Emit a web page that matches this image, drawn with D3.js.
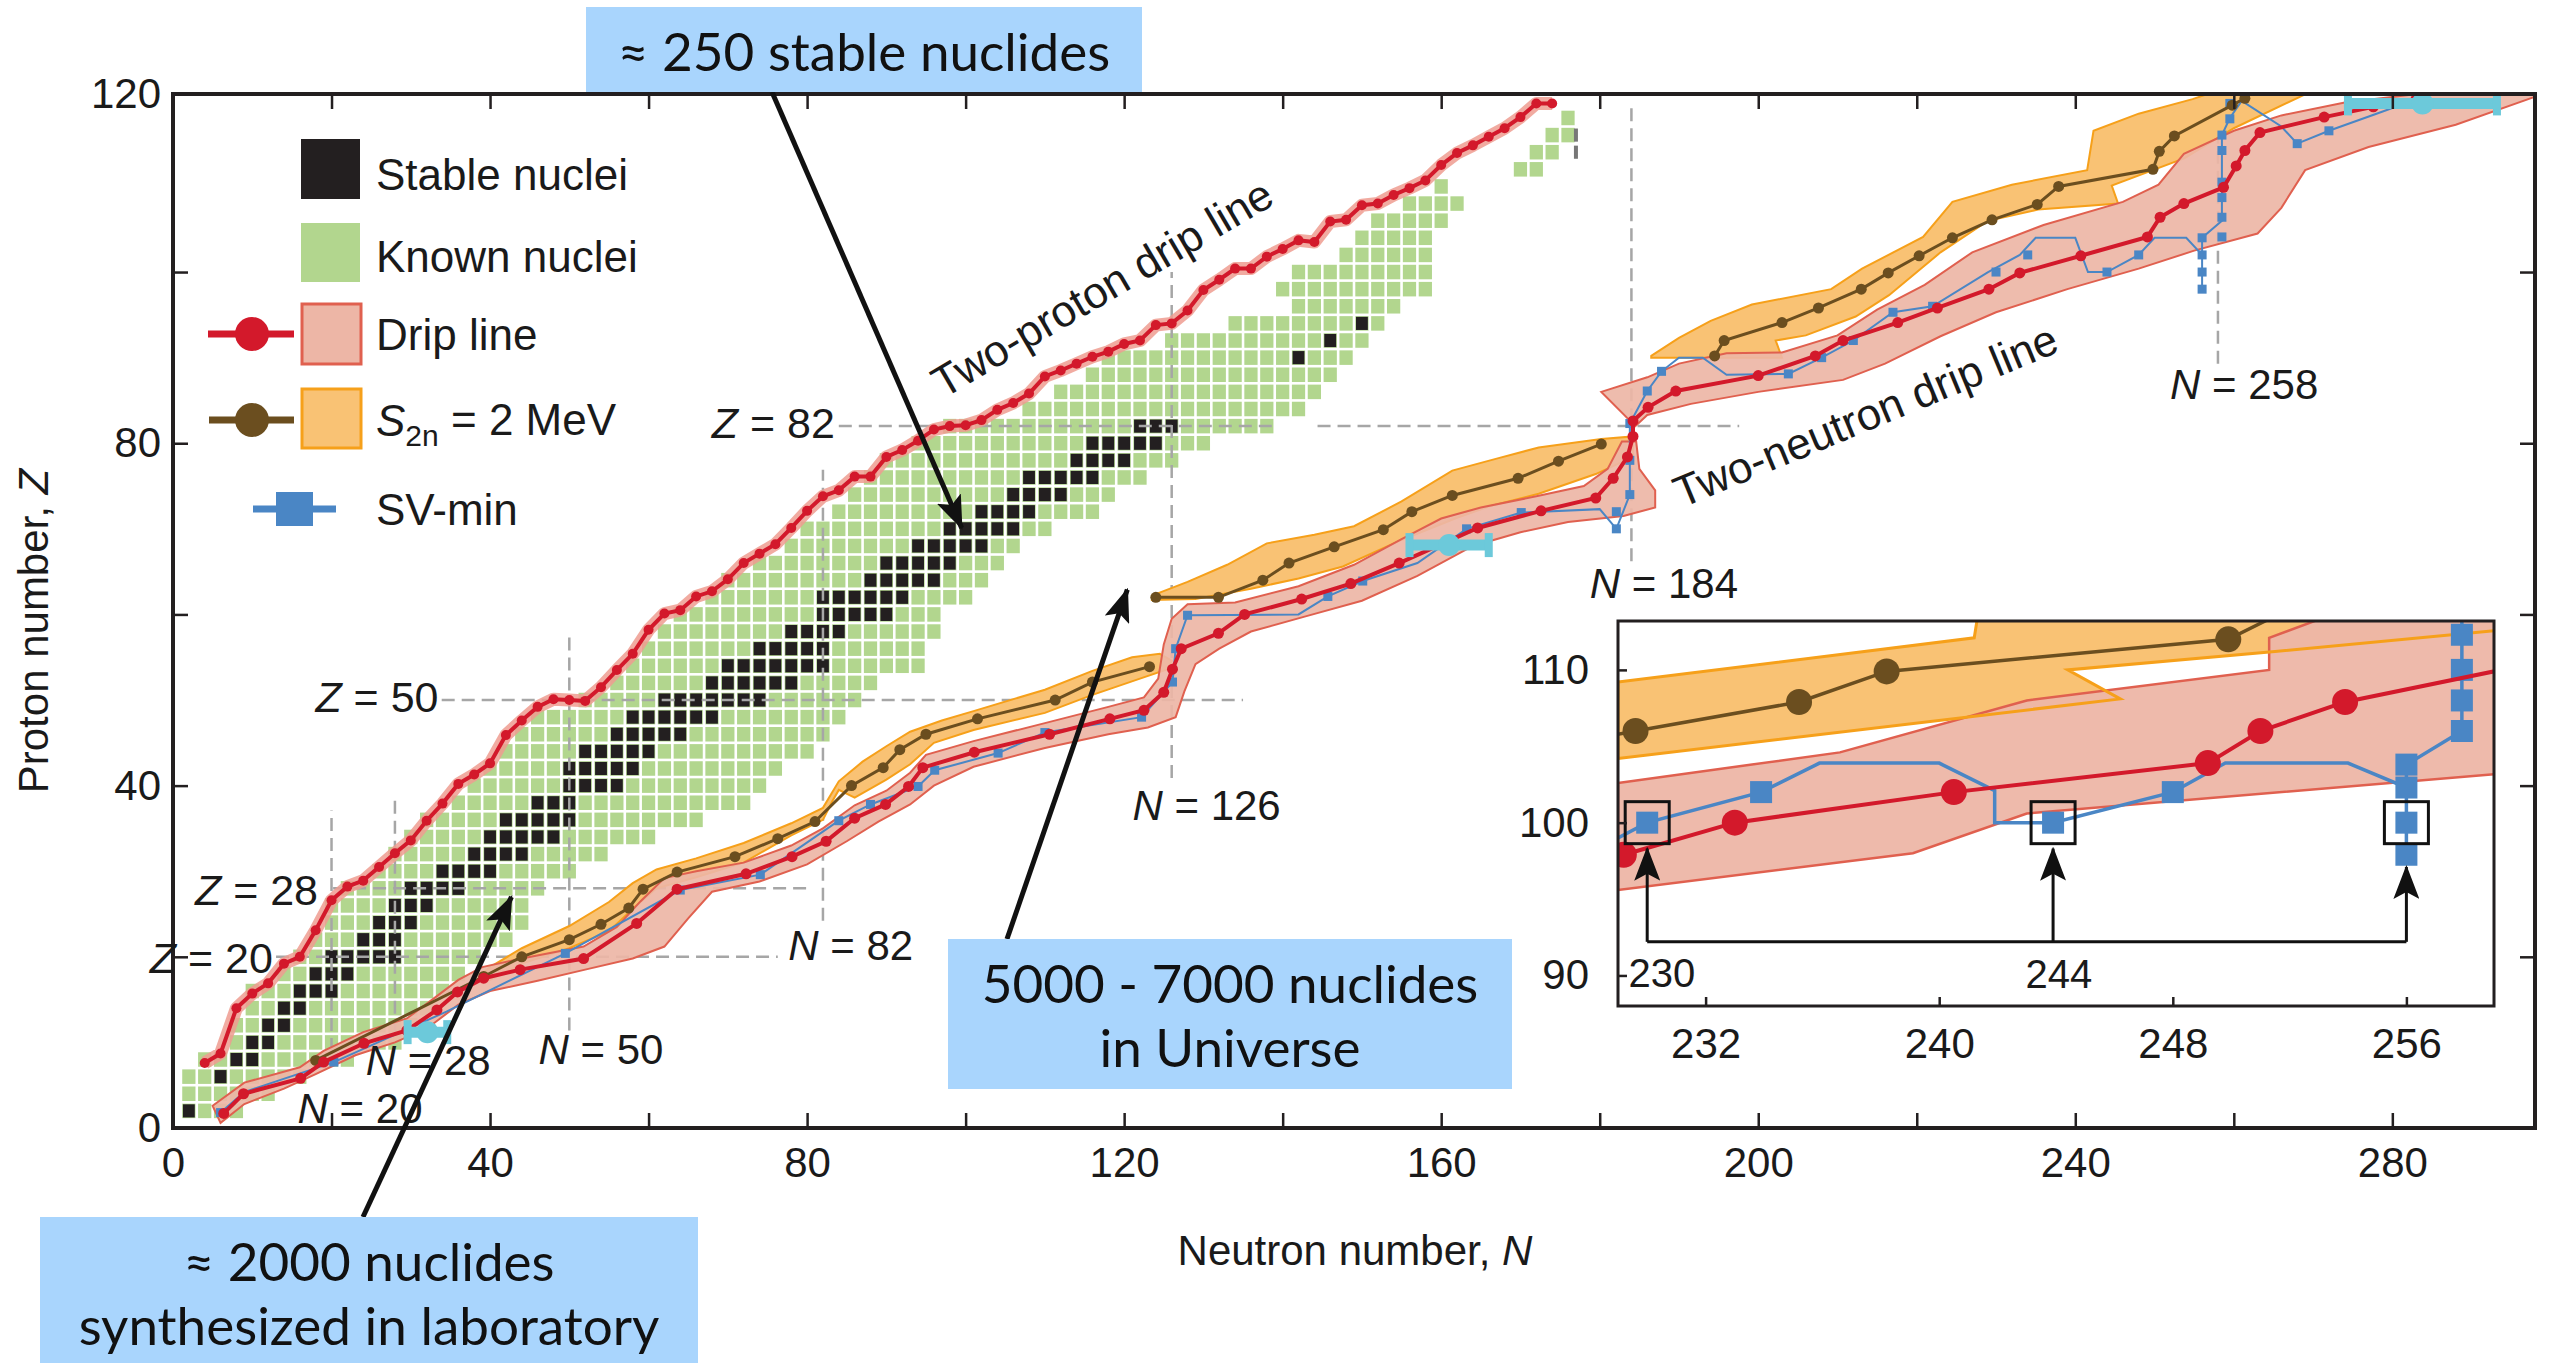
<!DOCTYPE html>
<html>
<head>
<meta charset="utf-8">
<script src="https://cdn.jsdelivr.net/npm/d3@7"></script>
<style>
  body { margin: 0; background: #fff; }
  svg { display: block; }
</style>
</head>
<body>
<svg id="chart" width="2555" height="1363"></svg>
<script>
// ---- data (N = neutron number, Z = proton number) ----
const knownZ   = [2,4,6,8,10,12,14,16,18,20,22,24,26,28,30,32,34,36,38,40,42,44,46,48,50,52,54,56,58,60,62,64,66,68,70,72,74,76,78,80,82,84,86,88,90,92,94,96,98,100,102,104,106,108,110,112,114,116,118];
const knownMin = [2,2,2,4,8,8,10,10,14,16,18,20,20,22,26,28,30,32,36,38,40,42,44,46,52,56,58,60,62,64,68,70,74,78,80,84,86,88,90,94,98,108,112,116,118,126,134,142,140,142,148,150,152,156,160,170,172,174,176];
const knownMax = [8,12,16,22,28,30,32,34,36,38,42,44,44,46,50,54,60,66,72,74,76,80,82,84,86,88,94,94,96,96,100,102,104,106,110,116,118,122,126,130,138,142,144,146,148,150,152,154,158,158,158,158,160,162,160,172,174,176,176];

const stable = [
  [2,[2]],[6,[6]],[8,[8,10]],[10,[10,12]],[12,[12,14]],[14,[14,16]],[16,[16,18,20]],[18,[18,20,22]],
  [20,[20,22,24,26,28]],[22,[24,26,28]],[24,[26,28,30]],[26,[28,30,32]],[28,[30,32,34,36]],
  [30,[34,36,38,40]],[32,[38,40,42,44]],[34,[40,42,44,46,48]],[36,[42,44,46,48,50]],[38,[46,48,50]],
  [40,[50,52,54,56]],[42,[50,52,54,56,58]],[44,[52,54,56,58,60]],[46,[56,58,60,62,64]],
  [48,[58,60,62,64,66,68]],[50,[62,64,66,68,70,72,74]],[52,[68,70,72,74,76,78]],[54,[70,72,74,76,78,80,82]],
  [56,[74,76,78,80,82]],[58,[78,80,82,84]],[60,[82,84,86,88,90]],[62,[82,84,86,88,90,92]],
  [64,[88,90,92,94,96]],[66,[90,92,94,96,98]],[68,[94,96,98,100,102]],[70,[98,100,102,104,106]],
  [72,[102,104,106,108]],[74,[106,108,110,112]],[76,[108,110,112,114,116]],[78,[114,116,118,120]],
  [80,[116,118,120,122,124]],[82,[122,124,126]],[90,[142]],[92,[146]],[94,[150]]
];
const greyMarks = [[177,116],[177,114]];

const protonDrip = [[4,7.6],[6,8.7],[8,14],[10,15.7],[12,16.9],[14,19.2],[16,20],[18,23.1],[20,26.6],[22,28.2],[24,28.9],[26,30.5],[28,32.1],[30,33.6],[32,35.9],[34,37.9],[36,40.2],[38,41.3],[40,42.6],[42,45.9],[44,47.6],[46,49.2],[48,50.1],[50,50],[52,49.9],[54,51.5],[56,53.5],[58,55.4],[60,58.2],[62,60.1],[64,60.5],[66,62.1],[68,62.7],[70,64.1],[72,66],[74,67.1],[76,68.2],[78,70.1],[80,72.1],[82,73.8],[84,74.5],[86,76.1],[88,76.1],[90,78.4],[92,79.2],[94,80.3],[96,81.6],[98,82],[100,82.1],[102,82.7],[104,83.9],[106,84.7],[108,85.8],[110,87.8],[112,88.5],[114,89.3],[116,90.1],[118,90.7],[120,91.6],[122,92],[124,93.8],[126,94],[128,95.5],[130,97.9],[132,99.1],[134,100.4],[136,100.4],[138,101.8],[140,102.7],[142,103.7],[144,103.5],[146,105.9],[148,106.1],[150,107.8],[152,108],[154,109],[156,109.8],[158,110.7],[160,112.5],[162,113.9],[164,114.8],[166,115.8],[168,116.8],[170,118.1],[172,119.7],[174,119.7]];

const neutronDrip = [[6.4,1.7],[8.9,4],[16.1,5.8],[19,7.7],[24.1,9.9],[29.5,11.4],[33.3,13.8],[35.9,15.9],[39.2,17.5],[43.8,18.5],[51.8,19.8],[58.5,23.9],[63.6,27.9],[72.3,29.7],[78.1,31.7],[82.4,33.5],[86,36.2],[89.9,37.8],[92.8,39.9],[94.6,42.1],[101.1,43.9],[110.6,46],[118.2,47.8],[122.5,48.8],[125,50.9],[126.1,53.6],[127.2,56],[131.9,57.8],[135.2,60],[142.4,61.8],[148.6,63.6],[154.7,66],[164.6,70.1],[172.6,72.1],[179.5,73.6],[181.7,75.9],[183.5,78.4],[184.2,80.8],[184.2,82.6],[186.1,84.2],[189.6,86.1],[200,87.9],[207.2,90.2],[210.7,92],[217.6,94.1],[222.6,95.8],[229.1,98],[233,99.9],[240.7,101.9],[249.1,104.1],[250.7,106.4],[253.7,108],[258.7,109.9],[260.3,112.4],[261.4,114.2],[263.3,116.3],[271.4,118.1],[277.6,119.3],[283,120.2]];

const s2nA = [[18,7.9],[39.2,17.7],[44,20],[50,22],[54,23.8],[57.5,25.7],[59.3,27.9],[63.6,29.9],[70.9,31.7],[76.3,33.8],[81,35.8],[85.6,40],[89.6,42.1],[91.7,44.2],[95,46],[101.5,47.8],[111.3,50],[116,52.1],[123.2,53.9]];
const s2nB = [[124,62],[131.9,62],[137.5,64],[140.8,66],[146.5,67.9],[152.7,69.9],[156.3,72],[161.4,73.9],[169.7,75.9],[174.8,77.9],[180.2,79.9]];
const s2nC = [[194.5,90.2],[195.7,92],[203,94.1],[207.6,95.8],[213,98],[216.4,99.9],[220.3,101.9],[224.5,104],[229.5,106.1],[235.2,107.9],[237.9,110],[249.8,112],[250.6,114.1],[252.5,115.9],[259.8,119.5],[261.4,120.3]];

const svLine = [[6,1.8],[9,4.2],[20.3,7.7],[34.5,13.6],[49.5,20.4],[64,27.8],[74.1,29.6],[84,35.9],[88,37.8],[94,39.9],[96.1,41.8],[104.1,43.8],[110,46.2],[122.2,48],[126.1,52.1],[126.5,56],[128,59.9],[142,60],[145.7,62.1],[150.1,63.9],[157,66],[163.2,70],[170.1,71.9],[180,72.3],[182.1,70],[183.8,74],[183.8,82.3],[186,86.1],[187.8,88.4],[190,90],[193,90],[196,88],[203.8,88.1],[208,90],[212,92],[217,95.3],[222,96],[229,100],[233,102],[235,104],[240,104],[241.6,100],[244,100],[248,102],[250,104],[254,104],[256,102],[256,98],[256,104],[258.5,106],[258.5,116],[259.5,118],[261,120],[266,117],[268,115],[272,116.5],[278,118.5],[284,120.5]];
const svPoints = [[6,1.8],[20.3,7.7],[49.5,20.4],[64,27.8],[74.1,29.6],[84,35.9],[88,37.8],[94,39.9],[96.1,41.8],[104.1,43.8],[110,46.2],[122.2,48],[126.1,52.1],[126.5,56],[128,59.9],[145.7,62.1],[150.1,63.9],[163.2,70],[170.1,71.9],[182.1,70],[182.1,72],[183.8,74],[183.8,78],[183.8,82.3],[186,86.1],[187.8,88.4],[203.8,88.1],[208,90],[212,92],[217,95.3],[222,96],[230,100],[234,102],[244,100],[248,102],[256,98],[256,100],[256,102],[256,104],[258.5,104.1],[258.5,106.4],[258.5,108.7],[258.5,110.5],[258.5,114.2],[258.5,116],[259.5,117.9],[259.5,119.7],[268,115],[272,116.5]];

const pinkA = [[5,2.6],[9,5.3],[16,7.1],[19,9],[24,11.2],[29.5,12.8],[33,15.2],[36,17.3],[39,18.8],[44,19.8],[51.8,21.2],[56,23.5],[59,26.5],[62,29.2],[66,30],[72,31],[78,33],[82,35],[86,37.7],[90,39.4],[93,41.5],[95,43.6],[101,45.2],[110,47.3],[118,49.2],[122.5,50.3],[124.3,52.5],[125,56.5],[126,59.5],[128,61.2],[134,61.4],[142,63.3],[149,65.8],[155,68.8],[160,71.2],[165,72.5],[172,73.8],[178,75],[181,77],[182.8,80.2],[184.6,80.2],[185,77],[187,74.5],[187,72.5],[183,71.5],
  [176,70.8],[170,69.6],[164,68],[157,64.5],[150,61.6],[143,59.8],[136,58],[132,56],[129,54.2],[127.6,51],[126.5,48],[123,46.8],[118,46],[110,44.4],[101,42.2],[96,40],[93,37.8],[89,35.8],[85,33.5],[80,30.8],[74,28.8],[68,27.6],[65,24.5],[62,21.2],[58,19.8],[52,18.5],[46,17.2],[40,16],[36,14.4],[32,11.6],[28,10],[23,8.5],[18,6.3],[14,4.6],[9,2.8],[6,0.6]];
const pinkB = [[180.2,86],[186,87.7],[190,89.3],[196,90.5],[203,90.6],[210,92.6],[215,95.6],[221,98.5],[227,102.3],[236,105.5],[246,108.2],[250.5,110.2],[253.7,113.8],[260,116.5],[266,118.3],[274,119.8],[285,121],[299,121.5],
  [299,120.8],[288,117.2],[277,114.6],[269,111.9],[266,107.5],[263,104.5],[255,102.5],[248,100.4],[239,98],[230,95.3],[223,92.5],[216,89.3],[210.7,87.4],[200,86],[191.5,84.6],[186,83.3],[184.5,82]];
const orangeA = [[38.5,17.6],[40,18.8],[44,21],[50,23.6],[55,26.4],[58,28.6],[61,30.2],[66,31.5],[72,33.3],[78,35.6],[82,37.4],[84,40.5],[87,42.8],[90,44.6],[93,46.3],[97,47.6],[101,48.7],[110,51.2],[116,53.4],[121,55],[124.5,55.4],[126,54.6],
  [125.5,53.6],[122,52.5],[116,50.6],[110,48.5],[101,46.5],[96,45],[93,42.5],[90,40.7],[86,38.6],[84,39.5],[83.2,38.2],[82,36],[78,34.2],[72,31],[66,29.3],[61,28],[58,25.6],[55,23],[50,21],[44,19.2],[40,17.3]];
const orangeB = [[123.5,62.2],[128,63.8],[133,65.8],[138,68.3],[144,69.3],[149,70.3],[155,73.2],[161.4,76.8],[167,78.2],[172.3,79.5],[180.2,80.5],[184.2,80.8],
  [184.2,78.4],[179.5,76.4],[172.3,74.1],[166,72.6],[162,71.3],[155,68.7],[147.6,65.6],[142,64.2],[136,63],[129,61.8],[123.5,61.7]];
const orangeC = [[186.5,90.2],[190,92.3],[194,94.3],[199.2,96.2],[209.2,98],[213.1,100.4],[220.8,104.1],[224.5,108.2],[232,110.2],[241.5,111.9],[242.3,116.5],[248,118.5],[254.8,120.2],[258,121.2],[270,121.2],
  [268.4,120.5],[260,116.8],[253.8,113.3],[244.6,110.1],[245.4,108],[235.3,107.3],[229,106],[223,102.3],[216.5,97.3],[212.3,94.8],[206,92.6],[202.2,92],[203,90],[186.5,90]];

const cyanBars = [[29.6,34.6,11.2],[156,166,68.1],[274.4,293.2,119.7]];

// magic numbers: horizontal [Z, Nfrom, Nto], vertical [N, Zfrom, Zto]
const magicZ = [[20,13,76.3],[28,20.2,80.6],[50,33.9,135],[82,84,139],[82,144.4,197.6]];
const magicN = [[20,9,37.1],[28,11,38.3],[50,11.4,57.9],[82,24.2,76.9],[126,40.9,100],[184,66.2,119.3],[258,89.3,119.8]];
const zLabels = [["Z","20",12.6,19.9],["Z","28",18.3,27.9],["Z","50",33.5,50.4],["Z","82",83.5,82.4]];
const nLabels = [["N","20",23.6,2.3],["N","28",32.2,7.9],["N","50",54,9.3],["N","82",85.5,21.4],["N","126",130.4,37.7],["N","184",188.1,63.7],["N","258",261.3,86.9]];

// inset
const insetDrip = [[228.5,97.3],[229.2,97.9],[233,100],[240.5,102],[249.2,103.9],[251,106],[253.9,107.9],[259.5,110.1]];
const insetS2n = [[228.5,105.6],[229.6,106],[235.2,107.9],[238.2,109.9],[249.9,112],[252,114]];
const insetSVLine = [[229,99],[230,100],[233.9,102],[235.9,103.9],[240,103.9],[241.9,102.1],[241.9,100],[243.9,100],[248,102],[249.8,103.9],[254,103.9],[256,102.3],[256,97.9],[256,103.8],[257.9,106],[257.9,113.5]];
const insetSVSquares = [[230,100],[233.9,102],[243.9,100],[248,102],[256,97.9],[256,100],[256,102.3],[256,103.8],[257.9,106],[257.9,108],[257.9,110],[257.9,112.3]];
const insetOrange = [[229,109.2],[241.2,112.1],[241.3,113.3],[259.2,113.3],[259.2,112.6],[251.5,111.2],[244.4,110],[246.2,108.1],[229,104.2]];
const insetPink = [[229,102.6],[236.6,104.6],[243,108],[251.3,110],[251.3,112.1],[253,113.3],[259.2,113.3],[259.2,103.2],[243,100.6],[239.1,98],[229,95.6]];
const insetBoxes = [230, 243.9, 256];
const insetArrowTips = [98.3, 98.3, 97.1];
const insetLabels = [["230",230.5,90.2],["244",244.1,90.1]];

// ---- colours ----
const GREEN = "#b2d68e", BLACK = "#231f20", RED = "#d3192b", PINK = "#edb6a6", PINK_EDGE = "#e0604f";
const ORANGE = "#f9c274", ORANGE_EDGE = "#f6a01a", BROWN = "#6b4e1f", BLUE = "#4a86c5", CYAN = "#6cc9da";
const BOX = "#a9d5fd", DASH = "#a6a6a6";
const FONT = "'Liberation Sans', Arial, Helvetica, sans-serif";
const BOXFONT = "Lato, 'Open Sans', sans-serif";

const svg = d3.select("#chart");

const x = d3.scaleLinear().domain([0, 298]).range([173, 2535]);
const y = d3.scaleLinear().domain([0, 120.8]).range([1128, 94]);
const line = d3.line().x(d => x(d[0])).y(d => y(d[1]));
const poly = pts => line(pts) + "Z";

const defs = svg.append("defs");
defs.append("clipPath").attr("id", "plotClip").append("rect")
  .attr("x", x(0)).attr("y", y(120.8)).attr("width", x(298) - x(0)).attr("height", y(0) - y(120.8));

defs.append("marker").attr("id", "head").attr("viewBox", "0 0 34 26")
  .attr("refX", 32).attr("refY", 13).attr("markerWidth", 34).attr("markerHeight", 26)
  .attr("markerUnits", "userSpaceOnUse").attr("orient", "auto")
  .append("path").attr("d", "M0,0 L34,13 L0,26 L7,13 Z").attr("fill", "#111");

const plot = svg.append("g").attr("clip-path", "url(#plotClip)");

// known + stable nuclei cells (2x2 bins)
const cells = [];
knownZ.forEach((z, i) => { for (let n = knownMin[i]; n <= knownMax[i]; n += 2) cells.push([n, z]); });
const cw = x(2) - x(0), ch = y(0) - y(2);
plot.append("g").selectAll("rect").data(cells).join("rect")
  .attr("x", d => x(d[0] - 1) + 1.3).attr("y", d => y(d[1] + 1) + 1.3)
  .attr("width", cw - 2.6).attr("height", ch - 2.6).attr("fill", GREEN);

const stableCells = stable.flatMap(([z, ns]) => ns.map(n => [n, z]));
plot.append("g").selectAll("rect").data(stableCells).join("rect")
  .attr("x", d => x(d[0] - 1) + 2).attr("y", d => y(d[1] + 1) + 2)
  .attr("width", cw - 4).attr("height", ch - 4).attr("fill", BLACK);

plot.append("g").selectAll("rect").data(greyMarks).join("rect")
  .attr("x", d => x(d[0]) - 2).attr("y", d => y(d[1] + 1) + 2)
  .attr("width", 4).attr("height", ch - 4).attr("fill", "#777");

// magic-number dashed guides
plot.append("g").selectAll("line").data(magicZ).join("line")
  .attr("x1", d => x(d[1])).attr("x2", d => x(d[2])).attr("y1", d => y(d[0])).attr("y2", d => y(d[0]))
  .attr("stroke", DASH).attr("stroke-width", 2.5).attr("stroke-dasharray", "13,7");
plot.append("g").selectAll("line").data(magicN).join("line")
  .attr("x1", d => x(d[0])).attr("x2", d => x(d[0])).attr("y1", d => y(d[1])).attr("y2", d => y(d[2]))
  .attr("stroke", DASH).attr("stroke-width", 2.5).attr("stroke-dasharray", "13,7");

// uncertainty bands
plot.selectAll("path.orange").data([orangeA, orangeB, orangeC]).join("path").attr("class", "orange")
  .attr("d", poly).attr("fill", ORANGE).attr("stroke", ORANGE_EDGE).attr("stroke-width", 2);
plot.selectAll("path.pink").data([pinkA, pinkB]).join("path").attr("class", "pink")
  .attr("d", poly).attr("fill", PINK).attr("fill-opacity", 0.92).attr("stroke", PINK_EDGE).attr("stroke-width", 2);

// SV-min
plot.append("path").attr("d", line(svLine)).attr("fill", "none").attr("stroke", BLUE).attr("stroke-width", 2);
plot.append("g").selectAll("rect").data(svPoints).join("rect")
  .attr("x", d => x(d[0]) - 4.5).attr("y", d => y(d[1]) - 4.5).attr("width", 9).attr("height", 9).attr("fill", BLUE);

// S2n = 2 MeV
[s2nA, s2nB, s2nC].forEach(seg => {
  plot.append("path").attr("d", line(seg)).attr("fill", "none").attr("stroke", BROWN).attr("stroke-width", 3);
  plot.append("g").selectAll("circle").data(seg).join("circle")
    .attr("cx", d => x(d[0])).attr("cy", d => y(d[1])).attr("r", 5.5).attr("fill", BROWN);
});

// neutron drip line
plot.append("path").attr("d", line(neutronDrip)).attr("fill", "none").attr("stroke", RED).attr("stroke-width", 4);
plot.append("g").selectAll("circle").data(neutronDrip).join("circle")
  .attr("cx", d => x(d[0])).attr("cy", d => y(d[1])).attr("r", 5.5).attr("fill", RED);

// proton drip line (with narrow band)
plot.append("path").attr("d", line(protonDrip)).attr("fill", "none").attr("stroke", "#ee9c90")
  .attr("stroke-width", 13).attr("stroke-linejoin", "round").attr("stroke-opacity", 0.85);
plot.append("path").attr("d", line(protonDrip)).attr("fill", "none").attr("stroke", RED).attr("stroke-width", 4);
plot.append("g").selectAll("circle").data(protonDrip).join("circle")
  .attr("cx", d => x(d[0])).attr("cy", d => y(d[1])).attr("r", 5).attr("fill", RED);

// cyan bars
const cy = plot.append("g");
cyanBars.forEach(b => {
  cy.append("line").attr("x1", x(b[0])).attr("x2", x(b[1])).attr("y1", y(b[2])).attr("y2", y(b[2]))
    .attr("stroke", CYAN).attr("stroke-width", 11);
  [b[0], b[1]].forEach(n => cy.append("rect").attr("x", x(n) - 4).attr("y", y(b[2]) - 12).attr("width", 8).attr("height", 24).attr("fill", CYAN));
  cy.append("circle").attr("cx", x((b[0] + b[1]) / 2)).attr("cy", y(b[2])).attr("r", 11).attr("fill", CYAN);
});

// ---- frame & axes ----
svg.append("rect").attr("x", x(0)).attr("y", y(120.8)).attr("width", x(298) - x(0)).attr("height", y(0) - y(120.8))
  .attr("fill", "none").attr("stroke", BLACK).attr("stroke-width", 4);

function styleAxis(g, size) {
  g.select(".domain").remove();
  g.selectAll(".tick line").attr("stroke", BLACK).attr("stroke-width", 2.5);
  g.selectAll(".tick text").attr("font-family", FONT).attr("font-size", size).attr("fill", "#1a1a1a");
}
const xTicks = d3.range(0, 281, 20);
const yTicks = [0, 20, 40, 60, 80, 100, 120.8];
svg.append("g").attr("transform", `translate(0,${y(0)})`)
  .call(d3.axisBottom(x).tickValues(xTicks).tickSizeInner(-15).tickSizeOuter(0).tickPadding(19)
    .tickFormat(d => d % 40 === 0 ? d : ""))
  .call(g => styleAxis(g, 42));
svg.append("g").attr("transform", `translate(0,${y(120.8)})`)
  .call(d3.axisTop(x).tickValues(xTicks.slice(1)).tickSizeInner(-15).tickSizeOuter(0).tickFormat(""))
  .call(g => styleAxis(g, 42));
svg.append("g").attr("transform", `translate(${x(0)},0)`)
  .call(d3.axisLeft(y).tickValues(yTicks).tickSizeInner(-15).tickSizeOuter(0).tickPadding(12)
    .tickFormat(d => d === 120.8 ? "120" : (d % 40 === 0 ? d : "")))
  .call(g => styleAxis(g, 42));
svg.append("g").attr("transform", `translate(${x(298)},0)`)
  .call(d3.axisRight(y).tickValues(yTicks.slice(1, 6)).tickSizeInner(-15).tickSizeOuter(0).tickFormat(""))
  .call(g => styleAxis(g, 42));

svg.append("text").attr("x", 1355).attr("y", 1265).attr("text-anchor", "middle")
  .attr("font-family", FONT).attr("font-size", 42).attr("fill", "#1a1a1a")
  .call(t => { t.append("tspan").text("Neutron number, "); t.append("tspan").attr("font-style", "italic").text("N"); });
svg.append("text").attr("transform", `translate(48,${(y(0) + y(120.8)) / 2 + 20}) rotate(-90)`).attr("text-anchor", "middle")
  .attr("font-family", FONT).attr("font-size", 42).attr("fill", "#1a1a1a")
  .call(t => { t.append("tspan").text("Proton number, "); t.append("tspan").attr("font-style", "italic").text("Z"); });

// magic-number labels
function magicText(sel, d) {
  sel.append("tspan").attr("font-style", "italic").text(d[0]);
  sel.append("tspan").text(" = " + d[1]);
}
svg.append("g").selectAll("text").data(zLabels).join("text")
  .attr("x", d => x(d[2])).attr("y", d => y(d[3])).attr("dy", "0.36em").attr("text-anchor", "end")
  .attr("font-family", FONT).attr("font-size", 43).attr("fill", "#1a1a1a")
  .each(function (d) { magicText(d3.select(this), d); });
svg.append("g").selectAll("text").data(nLabels).join("text")
  .attr("x", d => x(d[2])).attr("y", d => y(d[3])).attr("dy", "0.36em").attr("text-anchor", "middle")
  .attr("font-family", FONT).attr("font-size", 42).attr("fill", "#1a1a1a")
  .each(function (d) { magicText(d3.select(this), d); });

// drip line captions
svg.append("text").attr("transform", `translate(${x(117.2)},${y(98.2)}) rotate(-30.4)`)
  .attr("text-anchor", "middle").attr("dy", "0.36em").attr("font-family", FONT).attr("font-size", 44)
  .attr("fill", "#1a1a1a").text("Two-proton drip line");
svg.append("text").attr("transform", `translate(${x(213.5)},${y(83.3)}) rotate(-22.5)`)
  .attr("text-anchor", "middle").attr("dy", "0.36em").attr("font-family", FONT).attr("font-size", 44)
  .attr("fill", "#1a1a1a").text("Two-neutron drip line");

// ---- legend ----
const lg = svg.append("g").attr("font-family", FONT).attr("font-size", 44).attr("fill", "#1a1a1a");
lg.append("rect").attr("x", 301).attr("y", 139).attr("width", 59).attr("height", 60).attr("fill", BLACK);
lg.append("rect").attr("x", 301).attr("y", 223).attr("width", 59).attr("height", 59).attr("fill", GREEN);
lg.append("line").attr("x1", 208).attr("x2", 294).attr("y1", 334).attr("y2", 334).attr("stroke", RED).attr("stroke-width", 7);
lg.append("circle").attr("cx", 252).attr("cy", 334).attr("r", 17).attr("fill", RED);
lg.append("rect").attr("x", 302).attr("y", 304).attr("width", 59).attr("height", 60).attr("fill", PINK).attr("stroke", PINK_EDGE).attr("stroke-width", 3);
lg.append("line").attr("x1", 209).attr("x2", 294).attr("y1", 420).attr("y2", 420).attr("stroke", BROWN).attr("stroke-width", 7);
lg.append("circle").attr("cx", 252).attr("cy", 420).attr("r", 17).attr("fill", BROWN);
lg.append("rect").attr("x", 302).attr("y", 389).attr("width", 59).attr("height", 59).attr("fill", ORANGE).attr("stroke", ORANGE_EDGE).attr("stroke-width", 3);
lg.append("line").attr("x1", 253).attr("x2", 336).attr("y1", 509).attr("y2", 509).attr("stroke", BLUE).attr("stroke-width", 7);
lg.append("rect").attr("x", 276).attr("y", 492).attr("width", 37).attr("height", 34).attr("fill", BLUE);
const legendText = [["Stable nuclei", 174], ["Known nuclei", 256], ["Drip line", 334], ["SV-min", 509]];
lg.selectAll("text.lt").data(legendText).join("text").attr("class", "lt")
  .attr("x", 376).attr("y", d => d[1]).attr("dy", "0.36em").text(d => d[0]);
lg.append("text").attr("x", 376).attr("y", 420).attr("dy", "0.36em")
  .call(t => {
    t.append("tspan").attr("font-style", "italic").text("S");
    t.append("tspan").attr("font-size", 30).attr("dy", "0.35em").text("2n");
    t.append("tspan").attr("dy", "-0.25em").text(" = 2 MeV");
  });

// ---- inset ----
const xi = d3.scaleLinear().domain([229, 259]).range([1618, 2494]);
const yi = d3.scaleLinear().domain([88, 113.2]).range([1006, 621]);
const li = d3.line().x(d => xi(d[0])).y(d => yi(d[1]));
defs.append("clipPath").attr("id", "insetClip").append("rect")
  .attr("x", xi(229)).attr("y", yi(113.2)).attr("width", xi(259) - xi(229)).attr("height", yi(88) - yi(113.2));

svg.append("rect").attr("x", xi(229)).attr("y", yi(113.2)).attr("width", xi(259) - xi(229)).attr("height", yi(88) - yi(113.2))
  .attr("fill", "#fff");
const ins = svg.append("g").attr("clip-path", "url(#insetClip)");
ins.append("path").attr("d", li(insetOrange) + "Z").attr("fill", ORANGE).attr("stroke", "none");
ins.append("path").attr("d", li(insetPink) + "Z").attr("fill", PINK).attr("fill-opacity", 0.95).attr("stroke", PINK_EDGE).attr("stroke-width", 2.5);
ins.append("path").attr("d", li(insetOrange) + "Z").attr("fill", "none").attr("stroke", ORANGE_EDGE).attr("stroke-width", 3);
ins.append("path").attr("d", li(insetSVLine)).attr("fill", "none").attr("stroke", BLUE).attr("stroke-width", 3.5);
ins.append("g").selectAll("rect").data(insetSVSquares).join("rect")
  .attr("x", d => xi(d[0]) - 11).attr("y", d => yi(d[1]) - 11).attr("width", 22).attr("height", 22).attr("fill", BLUE);
ins.append("path").attr("d", li(insetS2n)).attr("fill", "none").attr("stroke", BROWN).attr("stroke-width", 3.5);
ins.append("g").selectAll("circle").data(insetS2n.filter(d => d[0] > 229 && d[1] < 113)).join("circle")
  .attr("cx", d => xi(d[0])).attr("cy", d => yi(d[1])).attr("r", 13).attr("fill", BROWN);
ins.append("path").attr("d", li(insetDrip)).attr("fill", "none").attr("stroke", RED).attr("stroke-width", 4);
ins.append("g").selectAll("circle").data(insetDrip.filter(d => d[0] > 229 && d[0] < 259)).join("circle")
  .attr("cx", d => xi(d[0])).attr("cy", d => yi(d[1])).attr("r", 13).attr("fill", RED);

// highlighted SV-min nuclei and arrows
ins.append("g").selectAll("rect").data(insetBoxes).join("rect")
  .attr("x", d => xi(d) - 22).attr("y", yi(100) - 21).attr("width", 44).attr("height", 42)
  .attr("fill", "none").attr("stroke", "#111").attr("stroke-width", 3);
const baseZ = 92.2;
ins.append("path").attr("d", li([[insetBoxes[0], baseZ], [insetBoxes[2], baseZ]]))
  .attr("stroke", "#111").attr("stroke-width", 3).attr("fill", "none");
ins.append("g").selectAll("path").data(insetBoxes).join("path")
  .attr("d", (d, i) => li([[d, baseZ], [d, insetArrowTips[i]]]))
  .attr("stroke", "#111").attr("stroke-width", 3).attr("fill", "none").attr("marker-end", "url(#head)");
ins.append("g").selectAll("text").data(insetLabels).join("text")
  .attr("x", d => xi(d[1])).attr("y", d => yi(d[2])).attr("dy", "0.36em").attr("text-anchor", "middle")
  .attr("font-family", FONT).attr("font-size", 40).attr("fill", "#1a1a1a").text(d => d[0]);

svg.append("rect").attr("x", xi(229)).attr("y", yi(113.2)).attr("width", xi(259) - xi(229)).attr("height", yi(88) - yi(113.2))
  .attr("fill", "none").attr("stroke", BLACK).attr("stroke-width", 3);
svg.append("g").attr("transform", `translate(0,${yi(88)})`)
  .call(d3.axisBottom(xi).tickValues([232, 240, 248, 256]).tickSizeInner(-9).tickSizeOuter(0).tickPadding(22))
  .call(g => styleAxis(g, 42));
svg.append("g").attr("transform", `translate(${xi(229)},0)`)
  .call(d3.axisLeft(yi).tickValues([90, 100, 110]).tickSizeInner(-9).tickSizeOuter(0).tickPadding(29))
  .call(g => styleAxis(g, 42));

// ---- annotation boxes ----
const notes = [
  { box: [586, 7, 556, 85], lines: ["\u2248 250 stable nuclides"], ys: [52], from: [772, 92], to: [99.5, 70.1] },
  { box: [948, 939, 564, 150], lines: ["5000 - 7000 nuclides", "in Universe"], ys: [984, 1048], from: [1007, 939], to: [120.4, 62.9] },
  { box: [40, 1217, 658, 146], lines: ["\u2248 2000 nuclides", "synthesized in laboratory"], ys: [1262, 1326], from: [363, 1217], to: [42.7, 27.0] }
];
const ng = svg.append("g");
notes.forEach(n => {
  ng.append("line").attr("x1", n.from[0]).attr("y1", n.from[1]).attr("x2", x(n.to[0])).attr("y2", y(n.to[1]))
    .attr("stroke", "#111").attr("stroke-width", 5).attr("marker-end", "url(#head)");
});
notes.forEach(n => {
  ng.append("rect").attr("x", n.box[0]).attr("y", n.box[1]).attr("width", n.box[2]).attr("height", n.box[3]).attr("fill", BOX);
  n.lines.forEach((t, i) => ng.append("text").attr("x", n.box[0] + n.box[2] / 2).attr("y", n.ys[i]).attr("dy", "0.36em")
    .attr("text-anchor", "middle").attr("font-family", BOXFONT).attr("font-size", 53).attr("fill", "#111").text(t));
});
</script>
</body>
</html>
